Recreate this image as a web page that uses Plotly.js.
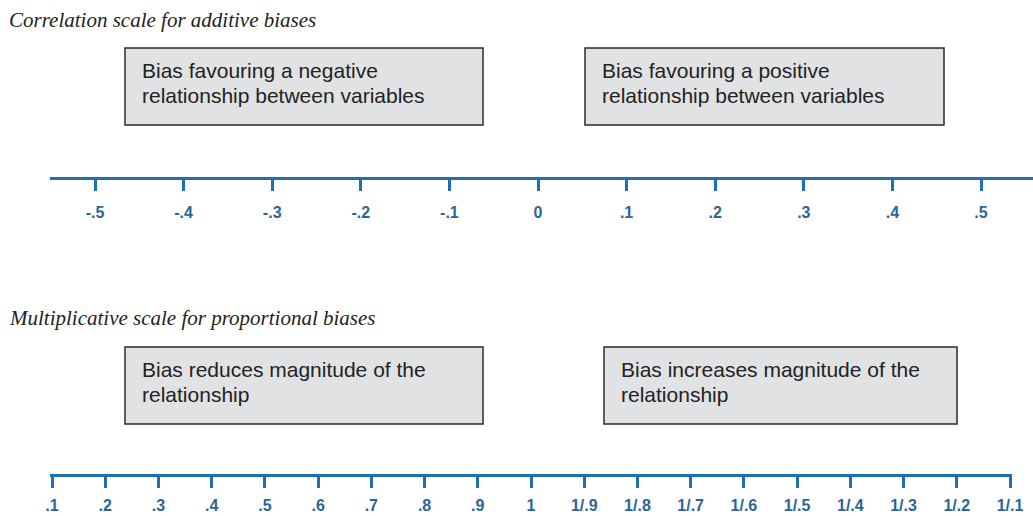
<!DOCTYPE html>
<html><head><meta charset="utf-8">
<script src="https://cdn.plot.ly/plotly-3.0.1.min.js"></script>
<style>html,body{margin:0;padding:0;background:#fff}#chart{width:1033px;height:516px}</style>
</head><body><div id="chart"></div>
<script>
// ---- data ----
const additiveTicks = [-0.5, -0.4, -0.3, -0.2, -0.1, 0, 0.1, 0.2, 0.3, 0.4, 0.5];
const additiveLabels = ['-.5', '-.4', '-.3', '-.2', '-.1', '0', '.1', '.2', '.3', '.4', '.5'];
const multiplicativeLabels = ['.1', '.2', '.3', '.4', '.5', '.6', '.7', '.8', '.9', '1',
  '1/.9', '1/.8', '1/.7', '1/.6', '1/.5', '1/.4', '1/.3', '1/.2', '1/.1'];
const scaleTitles = ['Correlation scale for additive biases', 'Multiplicative scale for proportional biases'];
const additiveBoxes = ['Bias favouring a negative<br>relationship between variables',
  'Bias favouring a positive<br>relationship between variables'];
const multiplicativeBoxes = ['Bias reduces magnitude of the<br>relationship',
  'Bias increases magnitude of the<br>relationship'];

// ---- layout helpers ----
const W = 1033, H = 516;
const fx = p => p / W;
const fy = p => 1 - p / H;
const BLUE = '#1f6fb2';
const LABEL = '#2a6699';

// top axis: -.5 at px 95, .5 at px 981, domain from px 50 to right edge
const s1 = (981 - 95) / 1.0;
const r1 = [-0.5 - (95 - 50) / s1, 0.5 + (W - 981) / s1];
// bottom axis: first tick px 52, last tick px 1010, domain px 50..1012
const n2 = multiplicativeLabels.length - 1;
const s2 = (1010 - 52) / n2;
const r2 = [-(52 - 50) / s2, n2 + (1012 - 1010) / s2];

const axisCommon = {
  showline: true, linewidth: 3, linecolor: BLUE,
  ticks: 'outside', ticklen: 11, tickwidth: 3, tickcolor: BLUE,
  showgrid: false, zeroline: false, fixedrange: true,
  tickfont: {family: 'Liberation Sans, Arial, sans-serif', size: 16, color: LABEL, weight: 'bold'},
  anchor: 'free'
};

const traces = [
  {x: additiveTicks, y: additiveTicks.map(() => 0), xaxis: 'x', yaxis: 'y',
   type: 'scatter', mode: 'markers', marker: {opacity: 0}, hoverinfo: 'skip', showlegend: false},
  {x: multiplicativeLabels, y: multiplicativeLabels.map(() => 0), xaxis: 'x2', yaxis: 'y2',
   type: 'scatter', mode: 'markers', marker: {opacity: 0}, hoverinfo: 'skip', showlegend: false}
];

const boxStyle = {type: 'rect', xref: 'paper', yref: 'paper', fillcolor: '#e1e2e4',
  line: {color: '#2b2b2b', width: 1.5}, layer: 'below'};
const boxes = [
  [125, 48, 483, 125], [585, 48, 944, 125],
  [125, 347, 483, 424], [604, 347, 957, 424]
];
const shapes = boxes.map(b => Object.assign({}, boxStyle,
  {x0: fx(b[0]), y0: fy(b[3]), x1: fx(b[2]), y1: fy(b[1])}));

const boxFont = {family: 'Liberation Sans, Arial, sans-serif', size: 21, color: '#232323'};
const titleFont = {family: 'Liberation Serif, Times New Roman, serif', size: 21, color: '#222', style: 'italic'};
const boxTexts = additiveBoxes.concat(multiplicativeBoxes);
// left edge and first-line centre of each box text, px; lines 25 px apart
const textPos = [[141, 70], [601, 70], [141, 369], [620, 369]];
const annotations = [];
boxTexts.forEach((t, i) => {
  t.split('<br>').forEach((line, j) => {
    annotations.push({text: line, xref: 'paper', yref: 'paper',
      x: fx(textPos[i][0]), y: fy(textPos[i][1] + 25 * j),
      xanchor: 'left', yanchor: 'middle', align: 'left', showarrow: false, borderpad: 0, font: boxFont});
  });
});
annotations.push(
  {text: scaleTitles[0], xref: 'paper', yref: 'paper', x: fx(8), y: fy(20), xanchor: 'left', yanchor: 'middle',
   showarrow: false, borderpad: 0, font: titleFont},
  {text: scaleTitles[1], xref: 'paper', yref: 'paper', x: fx(8), y: fy(318), xanchor: 'left', yanchor: 'middle',
   showarrow: false, borderpad: 0, font: titleFont}
);

const layout = {
  width: W, height: H, margin: {l: 0, r: 0, t: 0, b: 0},
  paper_bgcolor: '#fff', plot_bgcolor: 'rgba(0,0,0,0)', showlegend: false,
  xaxis: Object.assign({}, axisCommon, {domain: [fx(50), 1], range: r1, autorange: false,
    tickvals: additiveTicks, ticktext: additiveLabels, position: fy(178), ticklabelstandoff: 8}),
  xaxis2: Object.assign({}, axisCommon, {domain: [fx(50), fx(1012)], range: r2, autorange: false,
    type: 'category', categoryorder: 'array', categoryarray: multiplicativeLabels, position: fy(475),
    ticklabelstandoff: 4}),
  yaxis: {visible: false, domain: [0.5, 1], range: [-1, 1], fixedrange: true},
  yaxis2: {visible: false, domain: [0, 0.5], range: [-1, 1], fixedrange: true},
  shapes: shapes, annotations: annotations
};

Plotly.newPlot('chart', traces, layout, {displayModeBar: false, staticPlot: true});
</script>
</body></html>
